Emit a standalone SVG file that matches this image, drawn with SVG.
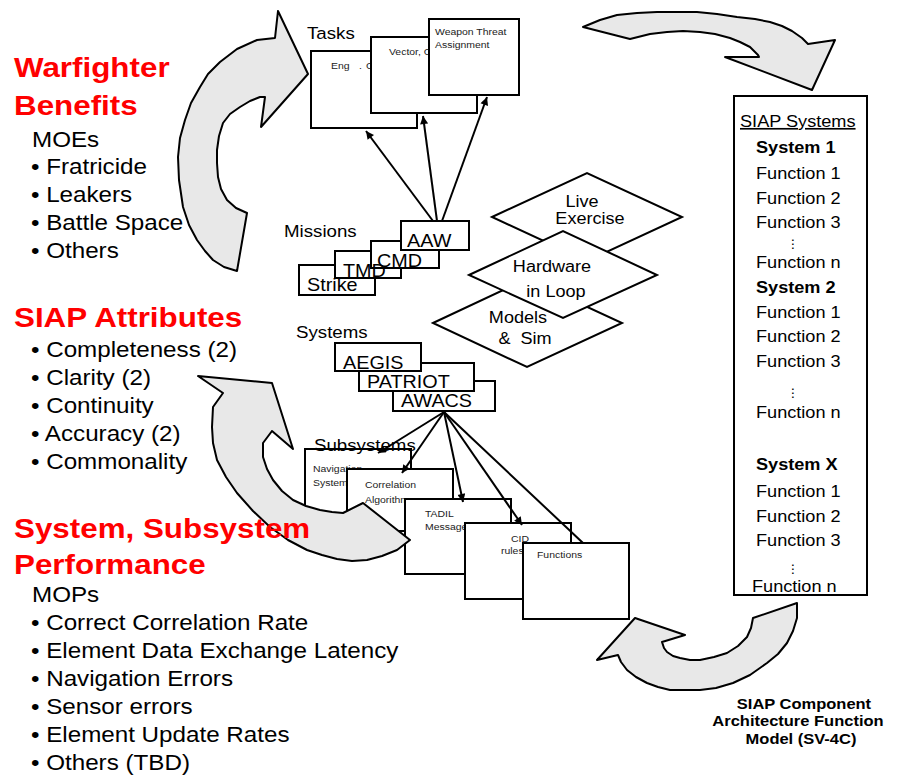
<svg xmlns="http://www.w3.org/2000/svg" width="898" height="776" viewBox="0 0 898 776">
<defs>
<marker id="ah" viewBox="0 0 10 10" refX="10" refY="5" markerWidth="10" markerHeight="8" markerUnits="userSpaceOnUse" orient="auto"><path d="M0,0 L10,5 L0,10 z" fill="#000"/></marker>
<style>
text{font-family:"Liberation Sans",Arial,sans-serif;fill:#000;transform:scaleX(1.1);transform-box:fill-box;transform-origin:0 0}
.mid{text-anchor:middle;transform-origin:50% 0}
.h{font-size:28px;font-weight:bold;fill:#FF0000;transform:scaleX(1.12)}
.b{font-size:22px;transform:scaleX(1.1)}
.lab{font-size:17px}
.bx{font-size:18px}
.sm{font-size:9.5px;fill:#222}
.dm{font-size:16px;transform:scaleX(1.13)}
.sy{font-size:16.5px}
.syb{font-size:16.5px;font-weight:bold}
.dots{font-family:"DejaVu Sans",sans-serif;font-size:12px}
.cap{font-size:15px;font-weight:bold}
rect{fill:#fff;stroke:#000;stroke-width:2}
.dia{fill:#fff;stroke:#000;stroke-width:2;stroke-linejoin:miter}
.arr{fill:#E8E8E8;stroke:#000;stroke-width:2;stroke-linejoin:round}
.con{stroke:#000;stroke-width:2;fill:none}
</style>
</defs>
<rect x="0" y="0" width="898" height="776" style="fill:#fff;stroke:none"/>

<g id="tasks">
<text class="lab" x="307" y="39">Tasks</text>
<rect x="311" y="51" width="106" height="77"/>
<text class="sm" x="331" y="69">Eng</text>
<text class="sm" x="359" y="69">.</text>
<text class="sm" x="366" y="69">C</text>
<rect x="371" y="37" width="106" height="76"/>
<text class="sm" x="389" y="55">Vector, C</text>
<rect x="429" y="19" width="90" height="76"/>
<text class="sm" x="435" y="35">Weapon Threat</text>
<text class="sm" x="435" y="48">Assignment</text>
</g>

<g id="missions">
<text class="lab" x="284" y="237">Missions</text>
<rect x="299" y="265" width="76" height="30"/>
<rect x="335" y="251" width="66" height="27"/>
<rect x="371" y="241" width="68" height="27"/>
<rect x="401" y="221" width="68" height="29"/>
<text class="bx" x="307" y="291">Strike</text>
<text class="bx" x="343" y="277">TMD</text>
<text class="bx" x="377" y="267">CMD</text>
<text class="bx" x="407" y="247">AAW</text>
</g>

<g id="test-venues">
<polygon class="dia" points="433,323 527,279 622,323 527,367"/>
<polygon class="dia" points="492,217 587,173 682,217 587,261"/>
<polygon class="dia" points="469,275 563,231 657,275 563,318"/>
<text class="dm mid" x="582" y="207">Live</text>
<text class="dm mid" x="590" y="224">Exercise</text>
<text class="dm mid" x="552" y="272">Hardware</text>
<text class="dm mid" x="556" y="297">in Loop</text>
<text class="dm mid" x="518" y="323">Models</text>
<text class="dm mid" x="525" y="344">&amp;&#160; Sim</text>
</g>

<g id="systems">
<text class="lab" x="296" y="338">Systems</text>
<rect x="393" y="381" width="102" height="30"/>
<rect x="359" y="363" width="115" height="28"/>
<rect x="335" y="343" width="86" height="28"/>
<text class="bx" x="343" y="369">AEGIS</text>
<text class="bx" x="367" y="388">PATRIOT</text>
<text class="bx" x="401" y="407">AWACS</text>
</g>

<g id="subsystems">
<rect x="305" y="449" width="106" height="64"/>
<text class="sm" x="313" y="472">Navigation</text>
<text class="sm" x="313" y="486">Systems</text>
<rect x="347" y="469" width="106" height="62"/>
<text class="sm" x="365" y="488">Correlation</text>
<text class="sm" x="365" y="503">Algorithms</text>
<rect x="405" y="499" width="106" height="75"/>
<text class="sm" x="425" y="517">TADIL</text>
<text class="sm" x="425" y="530">Messages</text>
<rect x="465" y="523" width="106" height="76"/>
<text class="sm mid" x="520" y="542">CID</text>
<text class="sm" x="501" y="554">rules</text>
<rect x="523" y="543" width="106" height="76"/>
<text class="sm" x="537" y="558">Functions</text>
<text class="lab" x="314" y="451">Subsystems</text>
</g>

<g id="connectors">
<line class="con" x1="433" y1="221" x2="366" y2="131" marker-end="url(#ah)"/>
<line class="con" x1="437" y1="221" x2="423" y2="116" marker-end="url(#ah)"/>
<line class="con" x1="442" y1="221" x2="487" y2="97" marker-end="url(#ah)"/>
<line class="con" x1="444" y1="412" x2="378" y2="453" marker-end="url(#ah)"/>
<line class="con" x1="444" y1="412" x2="402" y2="473" marker-end="url(#ah)"/>
<line class="con" x1="444" y1="412" x2="463" y2="502" marker-end="url(#ah)"/>
<line class="con" x1="444" y1="412" x2="522" y2="525" marker-end="url(#ah)"/>
<line class="con" x1="444" y1="412" x2="583" y2="543"/>
</g>

<g id="arrow-top-left">
<polygon class="arr" points="308,74 278,11 275,38 257,40 237,49 220,62 208,74 200,87 191,103 185,120 180,138 178,157 179,180 183,207 189,225 197,240 205,251 213,260 224,267 237,271 247,213 236,208 227,200 221,189 218,177 217,163 217,150 219,136 223,123 230,114 240,107 250,101 260,97 265,97 261,127"/>
</g>
<g id="arrow-top-right">
<polygon class="arr" points="583,27 600,20 617,15 637,13 657,12 677,12 697,12 717,14 737,17 755,19 770,22 782,26 792,31 802,38 808,44 835,40 812,90 725,57 759,57 758,55 750,47 740,42 730,38 715,34 700,32 683,31 667,32 650,34 630,39"/>
</g>
<g id="arrow-mid-left">
<polygon class="arr" points="198,376 272,383 293,449 272,431 263,443 263,457 267,469 273,480 282,491 293,500 306,506 320,510 332,512 343,513 363,503 410,540 397,550 382,556 367,560 352,561 337,559 322,555 307,550 288,540 270,527 253,511 237,493 226,477 217,460 213,443 212,427 213,407 223,393"/>
</g>
<g id="arrow-bottom-right">
<polygon class="arr" points="797,603 797,618 793,631 787,643 778,654 767,663 750,675 733,683 716,688 700,690 685,690 670,690 658,687 647,683 636,677 627,670 621,662 618,655 597,660 635,618 685,635 662,642 664,648 667,652 673,656 680,658 690,660 700,660 714,657 727,653 738,646 747,637 751,628 753,618"/>
</g>

<g id="siap-systems">
<rect x="734" y="96" width="133" height="499"/>
<text class="sy" x="740" y="127" text-decoration="underline">SIAP Systems</text>
<text class="syb" x="756" y="153">System 1</text>
<text class="sy" x="756" y="179">Function 1</text>
<text class="sy" x="756" y="204">Function 2</text>
<text class="sy" x="756" y="228">Function 3</text>
<text class="dots mid" x="793" y="248">⋮</text>
<text class="sy" x="756" y="268">Function n</text>
<text class="syb" x="756" y="293">System 2</text>
<text class="sy" x="756" y="318">Function 1</text>
<text class="sy" x="756" y="342">Function 2</text>
<text class="sy" x="756" y="367">Function 3</text>
<text class="dots mid" x="793" y="397">⋮</text>
<text class="sy" x="756" y="418">Function n</text>
<text class="syb" x="756" y="470">System X</text>
<text class="sy" x="756" y="497">Function 1</text>
<text class="sy" x="756" y="522">Function 2</text>
<text class="sy" x="756" y="546">Function 3</text>
<text class="dots mid" x="793" y="573">⋮</text>
<text class="sy" x="752" y="592">Function n</text>
</g>

<g id="caption">
<text class="cap mid" x="804" y="709">SIAP Component</text>
<text class="cap mid" x="798" y="726">Architecture Function</text>
<text class="cap mid" x="801" y="744">Model (SV-4C)</text>
</g>

<g id="left-text">
<text class="h" x="14" y="77">Warfighter</text>
<text class="h" x="14" y="115">Benefits</text>
<text class="b" x="32" y="147">MOEs</text>
<text class="b" x="31" y="174">• Fratricide</text>
<text class="b" x="31" y="202">• Leakers</text>
<text class="b" x="31" y="230">• Battle Space</text>
<text class="b" x="31" y="258">• Others</text>
<text class="h" x="14" y="327">SIAP Attributes</text>
<text class="b" x="31" y="357">• Completeness (2)</text>
<text class="b" x="31" y="385">• Clarity (2)</text>
<text class="b" x="31" y="413">• Continuity</text>
<text class="b" x="31" y="441">• Accuracy (2)</text>
<text class="b" x="31" y="469">• Commonality</text>
<text class="h" x="14" y="538">System, Subsystem</text>
<text class="h" x="14" y="574">Performance</text>
<text class="b" x="32" y="602">MOPs</text>
<text class="b" x="31" y="630">• Correct Correlation Rate</text>
<text class="b" x="31" y="658">• Element Data Exchange Latency</text>
<text class="b" x="31" y="686">• Navigation Errors</text>
<text class="b" x="31" y="714">• Sensor errors</text>
<text class="b" x="31" y="742">• Element Update Rates</text>
<text class="b" x="31" y="770">• Others (TBD)</text>
</g>
</svg>
